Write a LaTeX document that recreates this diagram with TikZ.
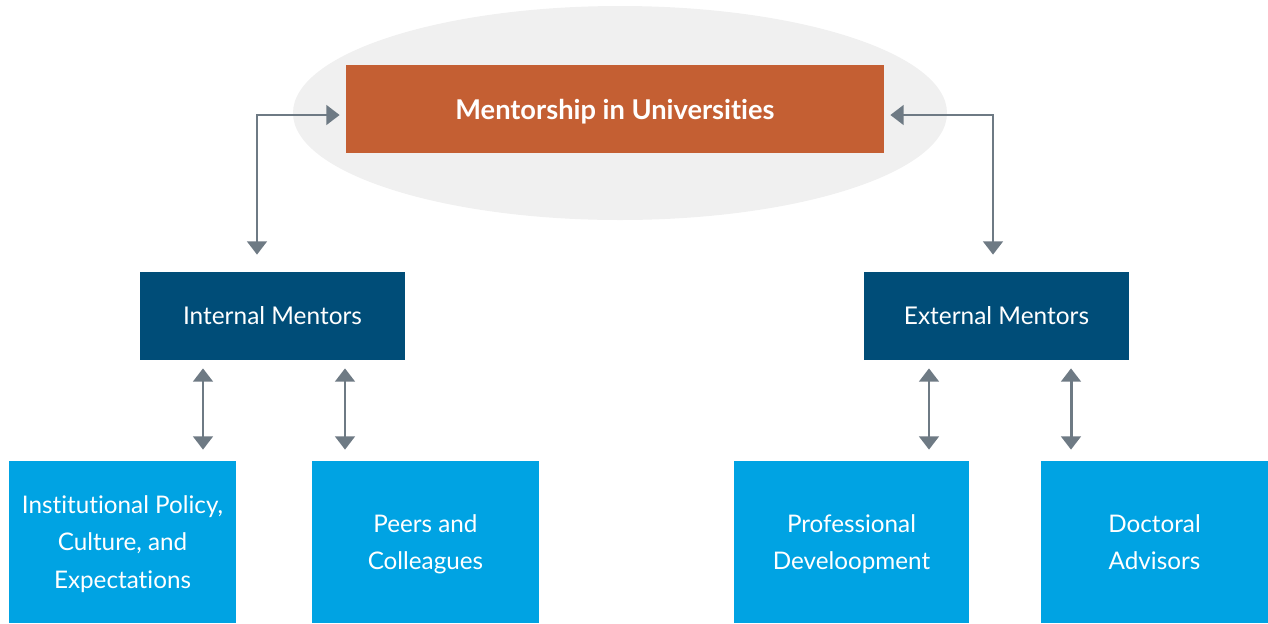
\documentclass[tikz,border=0pt]{standalone}
\usepackage{fontspec}
\setmainfont[Ligatures=NoCommon]{Lato}
\usepackage{tikz}
\usetikzlibrary{arrows.meta, positioning, shapes.geometric}
\definecolor{rootorange}{HTML}{C45F33}
\definecolor{midnavy}{HTML}{004D78}
\definecolor{leafblue}{HTML}{00A3E3}
\definecolor{linkgray}{HTML}{6E7A84}
\definecolor{haloggray}{HTML}{F0F0F0}
\tikzset{
  rootbox/.style={
    rectangle,
    fill=rootorange,
    text=white,
    font=\fontsize{15.5}{18}\selectfont\bfseries,
    text depth=0pt,
    minimum width=10.76cm,
    minimum height=1.76cm
  },
  groupbox/.style={
    rectangle,
    fill=midnavy,
    text=white,
    font=\fontsize{13.9}{16}\selectfont,
    minimum width=5.3cm,
    minimum height=1.76cm
  },
  leafbox/.style={
    rectangle,
    fill=leafblue,
    text=white,
    align=center,
    font=\fontsize{13.8}{21.3}\selectfont,
    text depth=0pt,
    minimum height=3.24cm
  },
  biarrow/.style={
    draw=linkgray,
    line width=1.7pt,
    {Triangle[width=11pt,length=7.5pt]}-{Triangle[width=11pt,length=7.5pt]}
  }
}

\begin{document}
\begin{tikzpicture}
  \useasboundingbox (0,0) rectangle (25.36,-12.46);

  % Halo behind the root
  \node[ellipse, fill=haloggray, minimum width=13.08cm, minimum height=4.28cm] (halo) at (12.4,-2.26) {};

  % Root component
  \node[rootbox] (root) at (12.3,-2.18) {Mentorship in Universities};

  % Mentor groups
  \node[groupbox] (intl) at (5.45,-6.32) {Internal Mentors};
  \node[groupbox] (extl) at (19.93,-6.32) {External Mentors};

  % Leaves
  \node[leafbox, minimum width=4.54cm] (inst) at (2.45,-10.84) {Institutional Policy,\\Culture, and\\Expectations};
  \node[leafbox, minimum width=4.54cm] (peers) at (8.51,-10.84) {Peers and\\Colleagues};
  \node[leafbox, minimum width=4.7cm] (prof) at (17.03,-10.84) {Professional\\Develoopment};
  \node[leafbox, minimum width=4.54cm] (doct) at (23.09,-10.84) {Doctoral\\Advisors};

  % Arrow anchors
  \coordinate (i0) at ([xshift=-0.31cm]intl.north);
  \coordinate (e0) at ([xshift=-0.07cm]extl.north);
  \coordinate (i1) at ([xshift=-1.39cm]intl.south);
  \coordinate (i2) at ([xshift=1.45cm]intl.south);
  \coordinate (e1) at ([xshift=-1.35cm]extl.south);
  \coordinate (e2) at ([xshift=1.49cm]extl.south);

  % Arrows
  \draw[biarrow, shorten <=0.34cm, shorten >=0.12cm] (i0) |- ([yshift=-0.12cm]root.west);
  \draw[biarrow, shorten <=0.34cm, shorten >=0.12cm] (e0) |- ([yshift=-0.12cm]root.east);

  \draw[biarrow, shorten <=0.16cm, shorten >=0.22cm] (i1) -- (i1 |- inst.north);
  \draw[biarrow, shorten <=0.16cm, shorten >=0.22cm] (i2) -- (i2 |- peers.north);
  \draw[biarrow, shorten <=0.16cm, shorten >=0.22cm] (e1) -- (e1 |- prof.north);
  \draw[biarrow, shorten <=0.16cm, shorten >=0.22cm] (e2) -- (e2 |- doct.north);
\end{tikzpicture}
\end{document}
